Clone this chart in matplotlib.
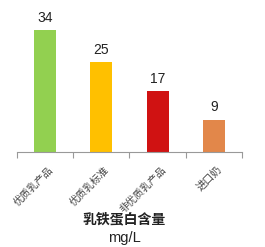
import matplotlib.pyplot as plt
from matplotlib.transforms import ScaledTranslation

plt.rcParams['font.family'] = ['Liberation Sans', 'Noto Sans CJK SC']

categories = ['优质乳产品', '优质乳标准', '非优质乳产品', '进口奶']
values = [34, 25, 17, 9]
colors = ['#92D050', '#FFC000', '#D01212', '#E2874A']

fig = plt.figure(figsize=(2.65, 2.47), dpi=100)
ax = fig.add_axes([0.064, 0.385, 0.849, 0.581])

x = range(len(categories))
bars = ax.bar(x, values, width=0.39, color=colors)
for b, v in zip(bars, values):
    ax.text(b.get_x() + b.get_width() / 2, v + 1.5, str(v),
            ha='center', va='bottom', fontsize=10, color='#222222')

ax.set_xlim(-0.5, 3.5)
ax.set_ylim(0, 40)
ax.set_yticks([])
for s in ['top', 'right', 'left']:
    ax.spines[s].set_visible(False)
ax.spines['bottom'].set_color('#999999')
ax.spines['bottom'].set_linewidth(0.8)

# labels centred under the bars, tick marks between categories
ax.set_xticks(list(x))
ax.set_xticklabels(categories, rotation=45, ha='right', rotation_mode='anchor',
                   fontsize=7.3, color='#444444')
ax.tick_params(axis='x', which='major', length=0, pad=9)
shift = ScaledTranslation(0.03, 0, fig.dpi_scale_trans)
for lbl in ax.get_xticklabels():
    lbl.set_transform(lbl.get_transform() + shift)
ax.set_xticks([-0.5, 0.5, 1.5, 2.5, 3.5], minor=True)
ax.tick_params(axis='x', which='minor', length=4, color='#999999', width=0.8)

fig.text(124 / 265, 1 - 219 / 247, '乳铁蛋白含量', ha='center', va='center',
         fontsize=10, fontweight='bold', color='#222222')
fig.text(124 / 265, 1 - 238 / 247, 'mg/L', ha='center', va='center',
         fontsize=10.5, color='#222222')

fig.savefig('out.png', dpi=100)
